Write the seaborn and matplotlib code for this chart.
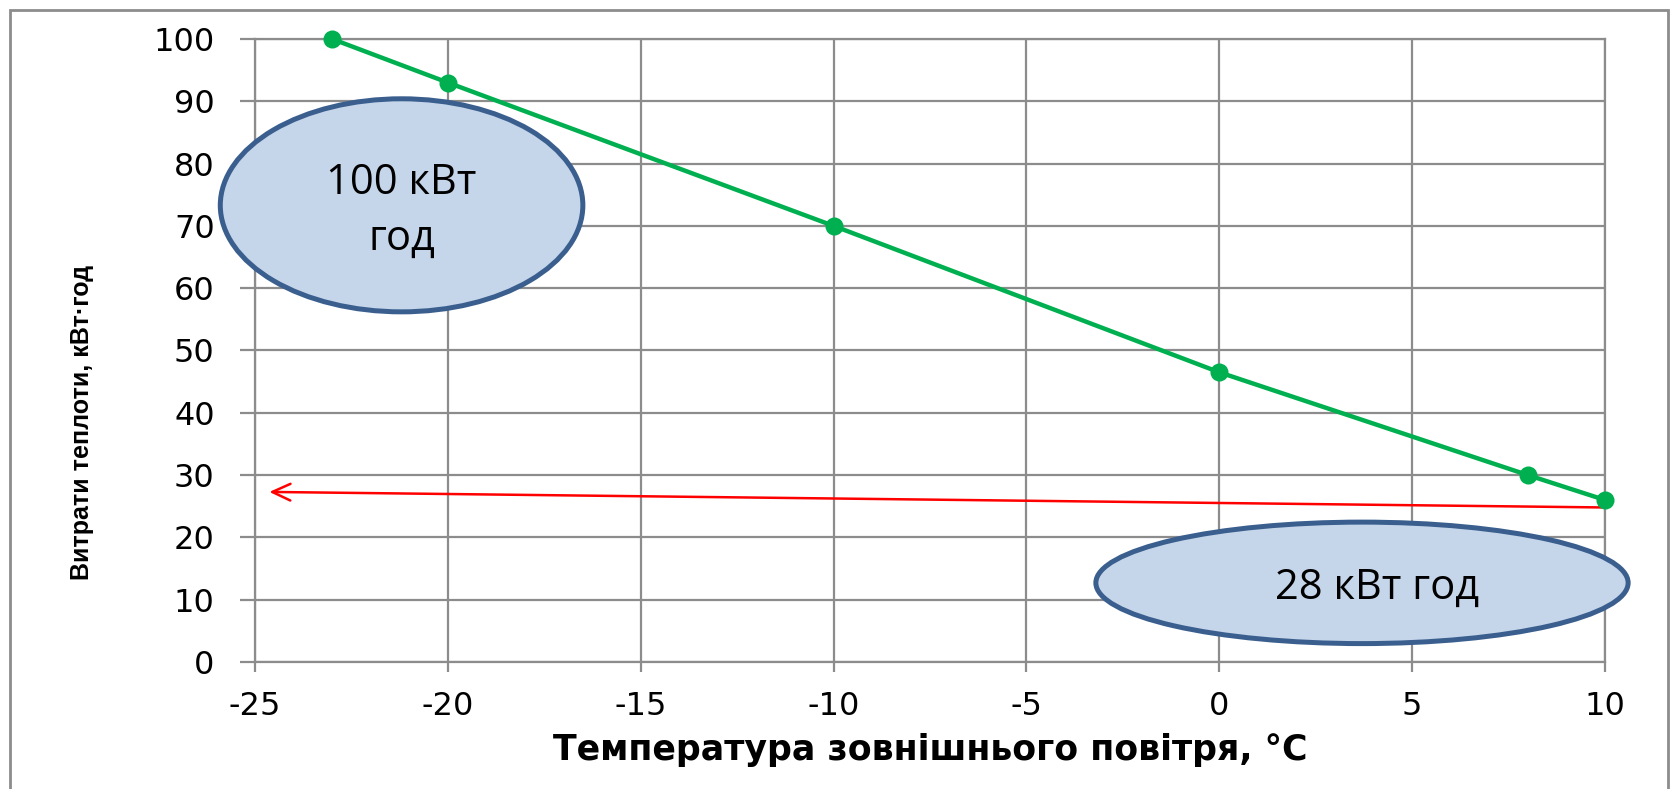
import matplotlib
matplotlib.use("Agg")
import matplotlib.pyplot as plt
from matplotlib.patches import Ellipse, Rectangle
import seaborn as sns
import pandas as pd

# Heat consumption versus outdoor air temperature
temperature = [-23, -20, -10, 0, 8, 10]
heat_loss = [100, 93, 70, 46.5, 30, 26]

x_ticks = [-25, -20, -15, -10, -5, 0, 5, 10]
y_ticks = [0, 10, 20, 30, 40, 50, 60, 70, 80, 90, 100]

x_label = "Температура зовнішнього повітря, °С"
y_label = "Витрати теплоти, кВт·год"

# callout ellipses: (x centre, y centre, width, height) and their captions
callout_text = ["100 кВт\nгод", "28 кВт год"]
callout_x = [-21.2, 3.7]
callout_y = [73.3, 12.7]
callout_w = [9.4, 13.8]
callout_h = [34.2, 19.5]
caption_x = [-21.2, 4.1]
caption_y = [72.4, 11.9]

# red arrow: from (10, 24.8) back towards the left edge
arrow_start = (10, 24.8)
arrow_end = (-24.7, 27.3)

df = pd.DataFrame({"t": temperature, "q": heat_loss})

sns.set_theme(style="white")
plt.rcParams["font.family"] = ["DejaVu Sans"]

fig = plt.figure(figsize=(16.71, 7.89), dpi=100)
ax = fig.add_axes([0.1526, 0.161, 0.8079, 0.7896])

grid_c = "#8c8c8c"
ax.set_xlim(-25, 10)
ax.set_ylim(0, 100)
ax.set_xticks(x_ticks)
ax.set_yticks(y_ticks)
ax.set_xticklabels([str(v) for v in x_ticks])
ax.set_yticklabels([str(v) for v in y_ticks])
ax.grid(True, color=grid_c, linewidth=1.6)
ax.set_axisbelow(True)
for s in ax.spines.values():
    s.set_color(grid_c)
    s.set_linewidth(1.6)
ax.tick_params(axis="y", which="major", length=11, width=1.6, color=grid_c,
               pad=18, labelsize=23, labelcolor="black", left=True)
ax.tick_params(axis="x", which="major", length=7, width=1.6, color=grid_c,
               pad=14, labelsize=23, labelcolor="black", bottom=True)

sns.lineplot(data=df, x="t", y="q", ax=ax, color="#00B050", linewidth=3.2,
             marker="o", markersize=13, markeredgewidth=0, clip_on=False,
             zorder=5)

ax.annotate("", xy=arrow_end, xytext=arrow_start,
            arrowprops=dict(arrowstyle="->,head_length=0.65,head_width=0.3",
                            color="red", lw=1.8, mutation_scale=20),
            annotation_clip=False, zorder=4)

for cx, cy, w, h in zip(callout_x, callout_y, callout_w, callout_h):
    ax.add_patch(Ellipse((cx, cy), w, h, facecolor="#C5D5EA",
                         edgecolor="#3A5F8E", linewidth=3.6, clip_on=False,
                         zorder=6))
for txt, tx, ty in zip(callout_text, caption_x, caption_y):
    ax.text(tx, ty, txt, ha="center", va="center", fontsize=30,
            family=["Open Sans", "DejaVu Sans"], color="black",
            linespacing=1.45, zorder=7)

ax.set_xlabel(x_label, fontsize=25, fontweight="bold", va="center",
              color="black")
ax.xaxis.set_label_coords(0.5, -0.141)
ax.set_ylabel(y_label, fontsize=18, fontweight="bold", va="center",
              color="black", family=["Liberation Sans", "DejaVu Sans"])
ax.yaxis.set_label_coords(-0.128, 0.384)

# outer chart frame
fig.patches.append(Rectangle((10 / 1671, -0.05), 1658 / 1671, 1 - 10 / 789 + 0.05,
                             transform=fig.transFigure, fill=False,
                             edgecolor="#8c8c8c", linewidth=2))

fig.savefig("out.png", dpi=100)
